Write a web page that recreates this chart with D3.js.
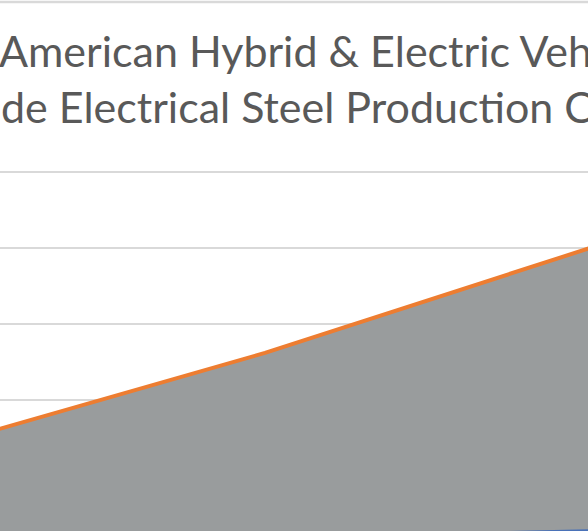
<!DOCTYPE html>
<html>
<head>
<meta charset="utf-8">
<script src="https://cdn.jsdelivr.net/npm/d3@7"></script>
<style>
  html, body { margin: 0; padding: 0; background: #ffffff; overflow: hidden; }
  svg { display: block; }
</style>
</head>
<body>
<svg id="chart" width="588" height="531"></svg>
<script>
// ---- data (visible window of the chart) ----
const titleLines = [
  "American Hybrid & Electric Vehicle",
  "de Electrical Steel Production Capacity"
];
const years = [2020, 2025, 2030];
const capacityValues = [139.5, 262, 400];   // grey area with orange edge line
const blueValues = [10, 21, 30];             // blue series peeking at the bottom
const yTicks = [0, 100, 200, 300, 400, 500];

// ---- layout ----
const W = 588, H = 531;
const svg = d3.select("#chart");

const x = d3.scaleLinear().domain([2020, 2030]).range([-60, 590]);
const y = d3.scaleLinear().domain([0, 500]).range([552, 172]);

// chart border (top)
svg.append("line")
  .attr("x1", 0).attr("x2", W)
  .attr("y1", 2).attr("y2", 2)
  .attr("stroke", "#d9d9d9").attr("stroke-width", 2.5);

// gridlines
svg.append("g")
  .selectAll("line")
  .data(yTicks.filter(t => t > 0))
  .join("line")
  .attr("x1", 0).attr("x2", W)
  .attr("y1", d => y(d)).attr("y2", d => y(d))
  .attr("stroke", "#d9d9d9").attr("stroke-width", 2);

const capData = years.map((yr, i) => ({ yr, v: capacityValues[i] }));
const blueData = years.map((yr, i) => ({ yr, v: blueValues[i] }));

const area = d3.area()
  .x(d => x(d.yr))
  .y0(y(0))
  .y1(d => y(d.v));

svg.append("path")
  .datum(capData)
  .attr("d", area)
  .attr("fill", "#999c9d");

svg.append("path")
  .datum(blueData)
  .attr("d", area)
  .attr("fill", "#4a72b8");

const line = d3.line()
  .x(d => x(d.yr))
  .y(d => y(d.v));

svg.append("path")
  .datum(capData)
  .attr("d", line)
  .attr("fill", "none")
  .attr("stroke", "#ed7d31")
  .attr("stroke-width", 4)
  .attr("stroke-linejoin", "round");

// title
const fontFamily = "Lato, 'Open Sans', 'DejaVu Sans', sans-serif";
const title = svg.append("g");
const t1 = title.append("text")
  .attr("x", -1).attr("y", 67)
  .attr("font-family", fontFamily)
  .attr("fill", "#595959")
  .text(titleLines[0]);
const t2 = title.append("text")
  .attr("x", 1).attr("y", 123)
  .attr("font-family", fontFamily)
  .attr("fill", "#595959")
  .text(titleLines[1]);

function fitTitle() {
  const probe = svg.append("text")
    .attr("font-family", fontFamily)
    .attr("font-size", 100);
  probe.text("American Hybrid & Electric V");
  const a = probe.node().getComputedTextLength();
  probe.text("V");
  const v = probe.node().getComputedTextLength();
  probe.text("de Electrical Steel Production C");
  const b = probe.node().getComputedTextLength();
  probe.text("C");
  const c = probe.node().getComputedTextLength();
  probe.remove();
  const s1 = 100 * 522 / (a - v);
  const s2 = 100 * 562 / (b - c);
  const fs = (s1 + s2) / 2;
  t1.attr("font-size", fs);
  t2.attr("font-size", fs);
}
fitTitle();
if (document.fonts && document.fonts.load) {
  document.fonts.load("100px Lato").then(fitTitle).catch(() => {});
  document.fonts.ready.then(fitTitle).catch(() => {});
}
</script>
</body>
</html>
